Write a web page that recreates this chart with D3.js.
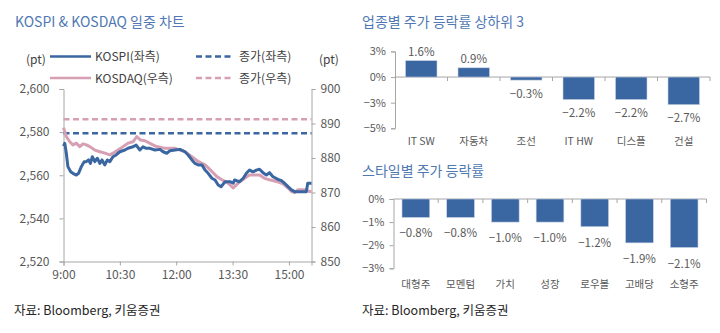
<!DOCTYPE html>
<html><head><meta charset="utf-8">
<script src="https://cdn.jsdelivr.net/npm/d3@7"></script>
<style>
body{margin:0;background:#fff;}
svg{display:block;font-family:"Noto Sans CJK KR","Noto Sans",sans-serif;}
</style></head>
<body><svg id="c" width="720" height="333"></svg>
<script>
// ---------- data ----------
// minutes after 9:00
const kospiMinutes = [0,2,4.5,7,11.5,15,20.5,24,28.5,33,36.5,40,43,46,50,54,58,61.5,66,70,74,79,84,90,98,103,111,116,122,127,132,138,146,154,159,165,170,178,186,194,199,205,210,215,221,226,231,237,242,247,251.5,258,266,271,273,281,287,292,297,302.6,308,313,318.5,324,329,334.5,342.5,348,353,358.5,364,369,377,387.7,390,396];
const kospiValues = [2573.5,2574.8,2570.2,2564,2561.6,2560.9,2560.1,2560.9,2564,2566.3,2566.3,2567.1,2565.5,2568.6,2566.3,2567.9,2565.5,2567.1,2564.8,2567.1,2566.3,2568.6,2569.4,2570.9,2571.7,2572.5,2573.2,2574,2571.7,2573.2,2572.5,2572.5,2571.7,2572,2570.9,2570.2,2571.4,2571.7,2572,2570.9,2569.4,2567.1,2565.5,2564.8,2564.8,2562.4,2560.9,2558.6,2557.8,2555.5,2554.7,2557,2557,2556.3,2557.8,2557,2558.6,2560.9,2562.4,2561.6,2562.4,2562.8,2561.2,2560.1,2561.2,2559.3,2558.1,2557.5,2556.3,2554.7,2553.2,2552.4,2552.4,2552.4,2556.3,2556.3];
const kosdaqMinutes = [0,4.5,10,15,20.5,26,31,36.5,42,50,58,66,74,79,87,95,103,111,117,123,130,146,162,178,194,205,215,226,237,245,253,263,271,279,289,297,305,313,321,329,340,350.5,358.5,364,369,374.5,385,393,396];
const kosdaqValues = [888.8,886.2,884.7,883.8,884.3,883.3,884.1,883.8,883.3,882.3,881.8,881.4,880.9,881.4,882.3,883.3,884.3,884.7,886.2,885.2,885,883.5,882.8,882.8,881.8,880.4,879,878,876.1,874.6,873.7,872.7,871.3,872.7,874.1,875.1,875.1,875.1,874.1,873.7,873.2,872.5,871.3,870.3,870,870.8,870.8,870.3,870.3];
const kospiPrevClose = 2579.5;
const kosdaqPrevClose = 891.2;
const leftTicks = [2520,2540,2560,2580,2600];
const rightTicks = [850,860,870,880,890,900];
const timeTickMinutes = [0,90,180,270,360];
const timeTickLabels = ["9:00","10:30","12:00","13:30","15:00"];

const industryCats = ["IT SW","자동차","조선","IT HW","디스플","건설"];
const industryVals = [1.6,0.9,-0.3,-2.2,-2.2,-2.7];
const industryTickVals = [2.5,0,-2.5,-5];
const industryTickLabels = ["3%","0%","−3%","−5%"];

const styleCats = ["대형주","모멘텀","가치","성장","로우볼","고배당","소형주"];
const styleVals = [-0.8,-0.8,-1.0,-1.0,-1.2,-1.9,-2.1];
const styleTickVals = [0,-1,-2,-3];
const styleTickLabels = ["0%","−1%","−2%","−3%"];

// ---------- style ----------
const BLUE = "#3a66a1", PINK = "#d79fb3", AXIS = "#a6a6a6", TXT = "#595959", TITLE = "#5079b3";
const svg = d3.select("#c");
const fmtPct = v => (v < 0 ? "−" : "") + Math.abs(v).toFixed(1) + "%";

function styleAxis(g){
  g.selectAll(".domain").attr("stroke", AXIS);
  g.selectAll(".tick line").attr("stroke", AXIS);
  g.selectAll("text").attr("fill", TXT);
}

// ---------- left chart ----------
svg.append("text").attr("x",15).attr("y",27).attr("font-size",14).attr("fill",TITLE).text("KOSPI & KOSDAQ 일중 차트");

const x = d3.scaleLinear().domain([0,396]).range([63.5,311.5]);
const yL = d3.scaleLinear().domain([2520,2600]).range([261.5,89]);
const yR = d3.scaleLinear().domain([850,900]).range([261.5,89]);

// legend
const leg = svg.append("g").attr("font-size",12).attr("fill","#404040");
leg.append("text").attr("x",26).attr("y",64).text("(pt)");
leg.append("text").attr("x",319).attr("y",64).text("(pt)");
leg.append("line").attr("x1",50).attr("x2",91).attr("y1",56.5).attr("y2",56.5).attr("stroke",BLUE).attr("stroke-width",2.5);
leg.append("text").attr("x",95).attr("y",61).text("KOSPI(좌측)");
leg.append("line").attr("x1",196).attr("x2",233).attr("y1",56.5).attr("y2",56.5).attr("stroke",BLUE).attr("stroke-width",2.5).attr("stroke-dasharray","6,3.5");
leg.append("text").attr("x",239).attr("y",61).text("종가(좌측)");
leg.append("line").attr("x1",50).attr("x2",91).attr("y1",78).attr("y2",78).attr("stroke",PINK).attr("stroke-width",2.5);
leg.append("text").attr("x",95).attr("y",82.5).text("KOSDAQ(우측)");
leg.append("line").attr("x1",196).attr("x2",233).attr("y1",78).attr("y2",78).attr("stroke",PINK).attr("stroke-width",2.5).attr("stroke-dasharray","6,3.5");
leg.append("text").attr("x",239).attr("y",82.5).text("종가(우측)");

// axes
const gl = svg.append("g").attr("transform","translate(63.5,0)")
  .call(d3.axisLeft(yL).tickValues(leftTicks).tickSize(4).tickPadding(10).tickFormat(d3.format(",")));
gl.attr("font-size",12).attr("font-family",null);
styleAxis(gl);
const gr = svg.append("g").attr("transform","translate(311.5,0)")
  .call(d3.axisRight(yR).tickValues(rightTicks).tickSize(4).tickPadding(5));
gr.attr("font-size",12).attr("font-family",null);
styleAxis(gr);
const gb = svg.append("g").attr("transform","translate(0,261.5)")
  .call(d3.axisBottom(x).tickValues(timeTickMinutes).tickSize(4).tickPadding(5).tickFormat((d,i)=>timeTickLabels[i]));
gb.attr("font-size",12).attr("font-family",null);
styleAxis(gb);

// prev close dashed
svg.append("line").attr("x1",x(0)).attr("x2",x(396)).attr("y1",yR(kosdaqPrevClose)).attr("y2",yR(kosdaqPrevClose))
  .attr("stroke",PINK).attr("stroke-width",2.5).attr("stroke-dasharray","6,3.5");
svg.append("line").attr("x1",x(0)).attr("x2",x(396)).attr("y1",yL(kospiPrevClose)).attr("y2",yL(kospiPrevClose))
  .attr("stroke",BLUE).attr("stroke-width",2.5).attr("stroke-dasharray","6,3.5");

const lineQ = d3.line().x((d,i)=>x(kosdaqMinutes[i])).y(d=>yR(d));
const lineK = d3.line().x((d,i)=>x(kospiMinutes[i])).y(d=>yL(d));
svg.append("path").datum(kosdaqValues).attr("d",lineQ).attr("fill","none").attr("stroke",PINK).attr("stroke-width",3).attr("stroke-linejoin","round");
svg.append("path").datum(kospiValues).attr("d",lineK).attr("fill","none").attr("stroke",BLUE).attr("stroke-width",3).attr("stroke-linejoin","round");

// ---------- bar chart helper ----------
function barChart(o){
  const xb = d3.scaleBand().domain(o.cats).range([o.x0,o.x1]).paddingInner(o.pad).paddingOuter(o.pad/2);
  const yb = d3.scaleLinear().domain(o.domain).range([o.yBottom,o.yTop]);
  svg.append("text").attr("x",362).attr("y",o.titleY).attr("font-size",14).attr("fill",TITLE).text(o.title);
  const ga = svg.append("g").attr("transform",`translate(${o.x0},0)`)
    .call(d3.axisLeft(yb).tickValues(o.tickVals).tickSize(4).tickPadding(5).tickFormat((d,i)=>o.tickLabels[i]));
  ga.attr("font-size",11).attr("font-family",null);
  styleAxis(ga);
  svg.append("line").attr("x1",o.x0).attr("x2",o.x1).attr("y1",yb(0)).attr("y2",yb(0)).attr("stroke",AXIS);
  const step = (o.x1-o.x0)/o.cats.length;
  d3.range(1,o.cats.length+1).forEach(i=>{
    svg.append("line").attr("x1",o.x0+i*step).attr("x2",o.x0+i*step).attr("y1",yb(0)).attr("y2",yb(0)+4).attr("stroke",AXIS);
  });
  svg.selectAll(null).data(o.vals).enter().append("rect")
    .attr("x",(d,i)=>xb(o.cats[i])).attr("width",xb.bandwidth())
    .attr("y",d=>yb(Math.max(0,d))).attr("height",d=>Math.abs(yb(d)-yb(0)))
    .attr("fill",BLUE).attr("stroke","#c9d4e4").attr("stroke-width",0.6);
  svg.selectAll(null).data(o.vals).enter().append("text")
    .attr("x",(d,i)=>xb(o.cats[i])+xb.bandwidth()/2)
    .attr("y",d=> d>=0 ? yb(d)-4.5 : yb(d)+o.negOff)
    .attr("text-anchor","middle").attr("font-size",11.5).attr("fill",TXT).text(d=>fmtPct(d));
  svg.selectAll(null).data(o.cats).enter().append("text")
    .attr("x",(d,i)=>xb(d)+xb.bandwidth()/2).attr("y",o.catY)
    .attr("text-anchor","middle").attr("font-size",10.5).attr("fill",TXT).text(d=>d);
}

barChart({title:"업종별 주가 등락률 상하위 3",titleY:27,cats:industryCats,vals:industryVals,x0:395,x1:710,pad:0.4,
  domain:[-5,2.5],yBottom:128.3,yTop:51.4,tickVals:industryTickVals,tickLabels:industryTickLabels,catY:145,negOff:17.5});
barChart({title:"스타일별 주가 등락률",titleY:176,cats:styleCats,vals:styleVals,x0:393.5,x1:706.5,pad:0.38,
  domain:[-3,0],yBottom:268.3,yTop:199,tickVals:styleTickVals,tickLabels:styleTickLabels,catY:288,negOff:20});

// ---------- footnotes ----------
svg.append("text").attr("x",14).attr("y",315).attr("font-size",12.5).attr("fill","#262626").text("자료: Bloomberg, 키움증권");
svg.append("text").attr("x",362).attr("y",315).attr("font-size",12.5).attr("fill","#262626").text("자료: Bloomberg, 키움증권");
</script></body></html>
